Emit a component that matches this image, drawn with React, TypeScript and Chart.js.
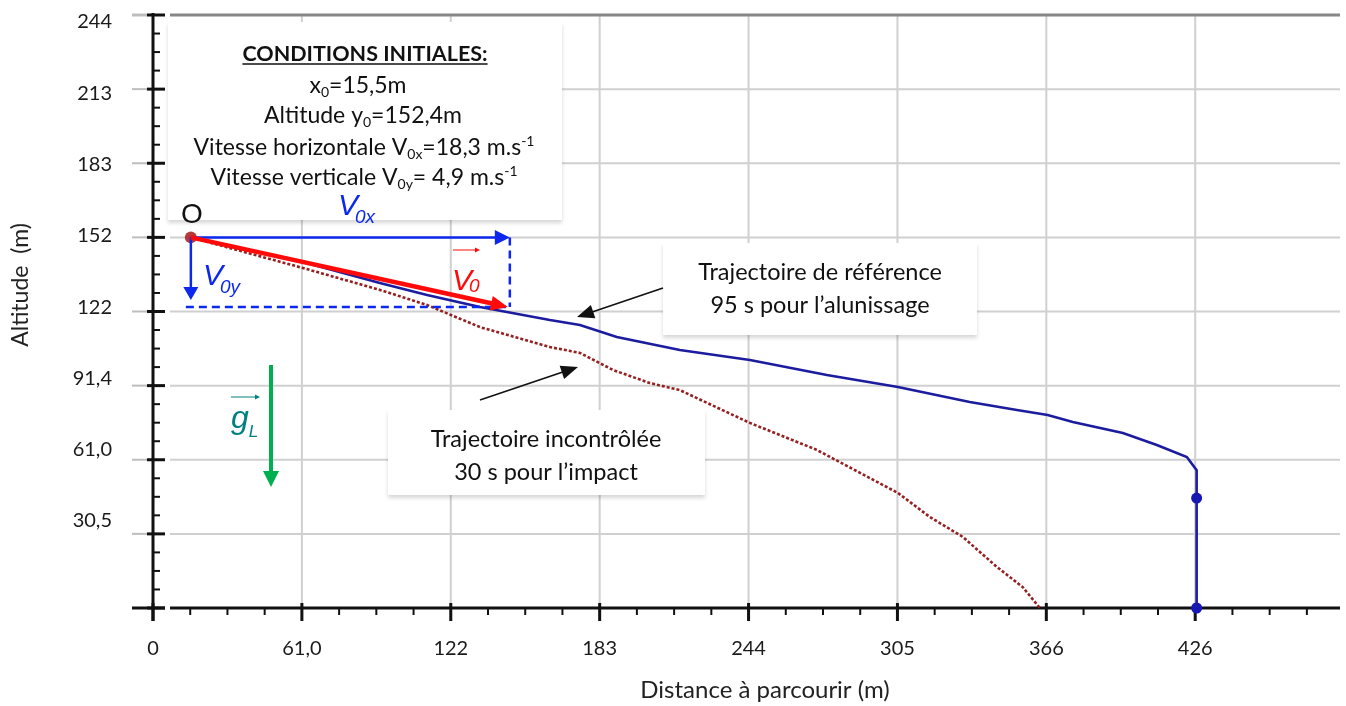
import React, { useEffect, useRef } from "react";
import { Chart, registerables } from "chart.js";

Chart.register(...registerables);

// ---------- DATA ----------
const xTickValues = [0, 60.96, 121.92, 182.88, 243.84, 304.8, 365.76, 426.72];
const xTickLabels = ["0", "61,0", "122", "183", "244", "305", "366", "426"];
const yTickValues = [0, 30.48, 60.96, 91.44, 121.92, 152.4, 182.88, 213.36, 243.84];
const yTickLabels = ["", "30,5", "61,0", "91,4", "122", "152", "183", "213", "244"];

// Trajectoire de référence (m)
const refX = [15.5, 61.4, 92.9, 112.2, 133.9, 162.5, 174.8, 189.9, 215.7, 244.4, 275.9, 305.0, 334.4, 353.7, 366.3, 376.6, 397.1, 411.0, 423.3, 427.3, 427.3];
const refY = [152.4, 142.3, 133.6, 128.7, 123.8, 118.4, 116.4, 111.4, 106.1, 102.0, 95.8, 90.9, 84.7, 81.4, 79.4, 76.5, 72.0, 67.0, 62.1, 56.7, 0];
// Trajectoire incontrôlée (m)
const freeX = [15.5, 61.4, 92.9, 112.2, 133.9, 162.5, 174.8, 188.3, 203.4, 215.7, 244.4, 271.8, 305.0, 318.1, 331.6, 345.5, 356.1, 363.1];
const freeY = [152.4, 139.8, 130.8, 124.6, 115.5, 107.3, 104.9, 97.9, 92.5, 89.6, 76.1, 65.0, 47.3, 37.4, 29.2, 16.9, 8.6, 0];
// markers
const landingX = [427.3, 427.3];
const landingY = [45.2, 0];
const originX = [15.5];
const originY = [152.4];

// initial velocity vector construction (in metres, drawn through the scales)
const vecTipX = 146.1;
const vecTipY = 123.8;
const vyTipY = 126.6;

const zip = (xs: number[], ys: number[]) => xs.map((x, i) => ({ x, y: ys[i] }));

type Seg = { t: string; k?: "sub" | "sup" };

function drawRich(ctx: CanvasRenderingContext2D, segs: Seg[], cx: number, base: number, size: number, family: string, weight: string, color: string) {
  const small = Math.round(size * 0.62);
  const fontFor = (k?: string) => `${weight} ${k ? small : size}px ${family}`;
  let total = 0;
  const ws = segs.map((s) => {
    ctx.font = fontFor(s.k);
    const w = ctx.measureText(s.t).width;
    total += w;
    return w;
  });
  let x = cx - total / 2;
  ctx.fillStyle = color;
  ctx.textAlign = "left";
  ctx.textBaseline = "alphabetic";
  segs.forEach((s, i) => {
    ctx.font = fontFor(s.k);
    const y = base + (s.k === "sub" ? size * 0.16 : s.k === "sup" ? -size * 0.4 : 0);
    ctx.fillText(s.t, x, y);
    x += ws[i];
  });
  return { left: cx - total / 2, right: cx + total / 2 };
}

function drawArrow(ctx: CanvasRenderingContext2D, x1: number, y1: number, x2: number, y2: number, color: string, lw: number, hl: number, hw: number) {
  const dx = x2 - x1, dy = y2 - y1;
  const L = Math.hypot(dx, dy);
  const ux = dx / L, uy = dy / L;
  const bx = x2 - ux * hl, by = y2 - uy * hl;
  ctx.save();
  ctx.strokeStyle = color;
  ctx.fillStyle = color;
  ctx.lineWidth = lw;
  ctx.setLineDash([]);
  ctx.beginPath();
  ctx.moveTo(x1, y1);
  ctx.lineTo(bx + ux, by + uy);
  ctx.stroke();
  ctx.beginPath();
  ctx.moveTo(x2, y2);
  ctx.lineTo(bx - uy * hw, by + ux * hw);
  ctx.lineTo(bx + uy * hw, by - ux * hw);
  ctx.closePath();
  ctx.fill();
  ctx.restore();
}

function vecLabel(ctx: CanvasRenderingContext2D, main: string, sub: string, x: number, base: number, size: number, subSize: number, subDx: number, subDy: number, color: string) {
  ctx.fillStyle = color;
  ctx.textAlign = "left";
  ctx.textBaseline = "alphabetic";
  ctx.font = `italic ${size}px "Liberation Sans"`;
  ctx.fillText(main, x, base);
  const w = ctx.measureText(main).width;
  ctx.font = `italic ${subSize}px "Liberation Sans"`;
  ctx.fillText(sub, x + w + subDx, base + subDy);
}

function whiteBox(ctx: CanvasRenderingContext2D, x1: number, y1: number, x2: number, y2: number) {
  ctx.save();
  ctx.shadowColor = "rgba(0,0,0,0.16)";
  ctx.shadowBlur = 4;
  ctx.shadowOffsetY = 3;
  ctx.fillStyle = "#ffffff";
  ctx.fillRect(x1, y1, x2 - x1, y2 - y1);
  ctx.restore();
}

const decorPlugin = {
  id: "decor",
  beforeDraw(chart: any) {
    const ctx = chart.ctx;
    ctx.save();
    ctx.fillStyle = "#ffffff";
    ctx.fillRect(0, 0, chart.width, chart.height);
    ctx.restore();
  },
  beforeDatasetsDraw(chart: any) {
    const ctx: CanvasRenderingContext2D = chart.ctx;
    const { left, right, top, bottom } = chart.chartArea;
    const sx = chart.scales.x, sy = chart.scales.y;
    ctx.save();
    // grid
    ctx.strokeStyle = "rgb(208,208,208)";
    ctx.lineWidth = 2;
    xTickValues.forEach((v, i) => {
      if (i === 0) return;
      const X = sx.getPixelForValue(v);
      ctx.beginPath();
      ctx.moveTo(X, top);
      ctx.lineTo(X, bottom - 5);
      ctx.stroke();
    });
    yTickValues.forEach((v, i) => {
      if (i === 0) return;
      const Y = sy.getPixelForValue(v);
      const last = i === yTickValues.length - 1;
      ctx.strokeStyle = last ? "rgb(135,135,135)" : "rgb(208,208,208)";
      ctx.lineWidth = last ? 3 : 2;
      ctx.beginPath();
      ctx.moveTo(left + 17, Y);
      ctx.lineTo(right, Y);
      ctx.stroke();
      ctx.strokeStyle = "rgb(190,190,190)";
      ctx.beginPath();
      ctx.moveTo(left - 21, Y);
      ctx.lineTo(left - 6, Y);
      ctx.stroke();
    });
    // boxes
    whiteBox(ctx, 168, 22, 562, 220);
    whiteBox(ctx, 663, 243, 977, 335);
    whiteBox(ctx, 388, 410, 705, 495);
    // axes
    ctx.strokeStyle = "#111";
    ctx.lineWidth = 3;
    ctx.beginPath();
    ctx.moveTo(left, top - 2);
    ctx.lineTo(left, bottom + 13);
    ctx.stroke();
    ctx.beginPath();
    ctx.moveTo(left - 21, bottom);
    ctx.lineTo(left + 12, bottom);
    ctx.moveTo(left + 17, bottom);
    ctx.lineTo(right, bottom);
    ctx.stroke();
    yTickValues.forEach((v) => {
      const Y = sy.getPixelForValue(v);
      ctx.beginPath();
      ctx.moveTo(left - 6, Y);
      ctx.lineTo(left + 12, Y);
      ctx.stroke();
    });
    xTickValues.forEach((v) => {
      const X = sx.getPixelForValue(v);
      ctx.beginPath();
      ctx.moveTo(X, bottom - 5);
      ctx.lineTo(X, bottom + 13);
      ctx.stroke();
    });
    ctx.lineWidth = 2;
    const yStep = 7.62, xStep = 15.24;
    for (let k = 1; k * yStep < sy.max; k++) {
      if (k % 4 === 0) continue;
      const Y = sy.getPixelForValue(k * yStep);
      ctx.beginPath();
      ctx.moveTo(left, Y);
      ctx.lineTo(left + 7, Y);
      ctx.stroke();
    }
    for (let k = 1; k * xStep < sx.max; k++) {
      if (k % 4 === 0) continue;
      const X = sx.getPixelForValue(k * xStep);
      ctx.beginPath();
      ctx.moveTo(X, bottom);
      ctx.lineTo(X, bottom + 7);
      ctx.stroke();
    }
    ctx.restore();
  },
  afterDatasetsDraw(chart: any) {
    const ctx: CanvasRenderingContext2D = chart.ctx;
    const sx = chart.scales.x, sy = chart.scales.y;
    const ox = sx.getPixelForValue(originX[0]);
    const oy = sy.getPixelForValue(originY[0]);
    const tx = sx.getPixelForValue(vecTipX);
    const ty = sy.getPixelForValue(vecTipY);
    const vyy = sy.getPixelForValue(vyTipY);
    const blue = "rgb(12,40,238)";
    const red = "rgb(255,10,10)";
    ctx.save();
    // dashed construction lines
    ctx.strokeStyle = blue;
    ctx.lineWidth = 2.5;
    ctx.setLineDash([8, 5]);
    ctx.beginPath();
    ctx.moveTo(tx, oy);
    ctx.lineTo(tx, ty);
    ctx.moveTo(ox - 5, ty);
    ctx.lineTo(tx, ty);
    ctx.stroke();
    ctx.setLineDash([]);
    // V0x, V0y arrows
    drawArrow(ctx, ox, oy, tx, oy, blue, 2.5, 15, 7.5);
    drawArrow(ctx, ox, oy, ox, vyy, blue, 2.5, 13, 7.5);
    // V0 arrow
    drawArrow(ctx, ox, oy, tx - 2, ty, red, 4.5, 17, 7.5);
    // gravity arrow
    drawArrow(ctx, 271, 365, 271, 487, "#00b050", 4, 16, 8);
    // black pointer arrows
    drawArrow(ctx, 663, 288, 577, 317, "#111", 1.6, 17, 7);
    drawArrow(ctx, 480, 400, 578, 367, "#111", 1.6, 17, 7);

    // labels
    ctx.fillStyle = "#111";
    ctx.font = '28px "Liberation Sans"';
    ctx.textAlign = "center";
    ctx.textBaseline = "alphabetic";
    ctx.fillText("O", 192, 223);
    vecLabel(ctx, "V", "0x", 338, 215, 30, 19, -3, 8, blue);
    vecLabel(ctx, "V", "0y", 203, 285, 30, 19, -3, 8, blue);
    vecLabel(ctx, "V", "0", 452, 290, 30, 19, -3, 2, red);
    drawArrow(ctx, 453, 250, 480, 250, red, 1, 5, 2.5);
    vecLabel(ctx, "g", "L", 231, 428, 32, 17, 0, 9, "#008080");
    drawArrow(ctx, 231, 397, 260, 397, "#008080", 1, 5, 2.5);

    // conditions initiales
    const fam = "Lato";
    const r = drawRich(ctx, [{ t: "CONDITIONS INITIALES:" }], 365, 61, 21.5, fam, "bold", "#111");
    ctx.strokeStyle = "#111";
    ctx.lineWidth = 1.5;
    ctx.beginPath();
    ctx.moveTo(r.left, 64);
    ctx.lineTo(r.right, 64);
    ctx.stroke();
    drawRich(ctx, [{ t: "x" }, { t: "0", k: "sub" }, { t: "=15,5m" }], 358, 93, 23, fam, "normal", "#111");
    drawRich(ctx, [{ t: "Altitude y" }, { t: "0", k: "sub" }, { t: "=152,4m" }], 363, 123, 23, fam, "normal", "#111");
    drawRich(ctx, [{ t: "Vitesse horizontale V" }, { t: "0x", k: "sub" }, { t: "=18,3 m.s" }, { t: "-1", k: "sup" }], 364, 155, 23, fam, "normal", "#111");
    drawRich(ctx, [{ t: "Vitesse verticale V" }, { t: "0y", k: "sub" }, { t: "= 4,9 m.s" }, { t: "-1", k: "sup" }], 364, 185, 23, fam, "normal", "#111");

    // callouts
    drawRich(ctx, [{ t: "Trajectoire de référence" }], 820, 280, 23.5, fam, "normal", "#111");
    drawRich(ctx, [{ t: "95 s pour l’alunissage" }], 820, 313, 23.5, fam, "normal", "#111");
    drawRich(ctx, [{ t: "Trajectoire incontrôlée" }], 546, 447, 23.5, fam, "normal", "#111");
    drawRich(ctx, [{ t: "30 s pour l’impact" }], 546, 480, 23.5, fam, "normal", "#111");

    // axis titles
    ctx.fillStyle = "#222";
    ctx.font = "24px Lato";
    ctx.textAlign = "center";
    ctx.textBaseline = "alphabetic";
    ctx.fillText("Distance à parcourir (m)", 765, 698);
    ctx.save();
    ctx.font = "23px Lato";
    ctx.translate(28, 285);
    ctx.rotate(-Math.PI / 2);
    ctx.fillText("Altitude  (m)", 0, 0);
    ctx.restore();
    ctx.restore();
  },
};

export default function App() {
  const ref = useRef<HTMLCanvasElement | null>(null);
  useEffect(() => {
    document.body.style.margin = "0";
    const canvas = ref.current;
    if (!canvas) return;
    const chart = new Chart(canvas, {
      type: "scatter",
      data: {
        datasets: [
          {
            label: "Trajectoire de référence",
            data: zip(refX, refY),
            showLine: true,
            borderColor: "rgb(28,28,158)",
            borderWidth: 2.6,
            pointRadius: 0,
            tension: 0,
            clip: false,
          },
          {
            label: "Trajectoire incontrôlée",
            data: zip(freeX, freeY),
            showLine: true,
            borderColor: "rgb(150,32,32)",
            borderWidth: 2.6,
            borderDash: [3, 2],
            pointRadius: 0,
            tension: 0,
            clip: false,
          },
          {
            label: "Alunissage",
            data: zip(landingX, landingY),
            showLine: false,
            pointRadius: 5.5,
            backgroundColor: "rgb(22,22,185)",
            borderWidth: 0,
            clip: false,
          },
          {
            label: "O",
            data: zip(originX, originY),
            showLine: false,
            pointRadius: 6,
            backgroundColor: "rgba(175,35,35,0.9)",
            borderWidth: 0,
            clip: false,
          },
        ],
      } as any,
      options: {
        responsive: false,
        animation: false,
        devicePixelRatio: 1,
        events: [],
        layout: { padding: { top: 15, right: 6, left: 0, bottom: 0 } },
        plugins: { legend: { display: false }, tooltip: { enabled: false } },
        scales: {
          x: {
            type: "linear",
            min: 0,
            max: 486,
            grid: { display: false, drawTicks: false },
            border: { display: false },
            afterBuildTicks: (scale: any) => {
              scale.ticks = xTickValues.map((v) => ({ value: v }));
            },
            afterFit: (scale: any) => {
              scale.height = 98;
              scale.paddingLeft = 0;
              scale.paddingRight = 0;
            },
            ticks: {
              autoSkip: false,
              maxRotation: 0,
              padding: 29,
              color: "#1a1a1a",
              font: { family: "Lato", size: 20 },
              callback: (_v: any, i: number) => xTickLabels[i],
            },
          },
          y: {
            type: "linear",
            display: false,
            min: 0,
            max: 243.84,
          },
          yl: {
            type: "linear",
            position: "left",
            min: -6.72,
            max: 246.8,
            grid: { display: false, drawTicks: false },
            border: { display: false },
            afterBuildTicks: (scale: any) => {
              scale.ticks = yTickValues.map((v) => ({ value: v }));
            },
            afterFit: (scale: any) => {
              scale.width = 153;
              scale.paddingTop = 0;
              scale.paddingBottom = 0;
            },
            ticks: {
              autoSkip: false,
              padding: 41,
              color: "#1a1a1a",
              font: { family: "Lato", size: 20 },
              callback: (_v: any, i: number) => yTickLabels[i],
            },
          },
        },
      } as any,
      plugins: [decorPlugin],
    });
    return () => chart.destroy();
  }, []);
  return (
    <div style={{ position: "absolute", left: 0, top: 0, width: 1346, height: 706, background: "#fff" }}>
      <canvas ref={ref} width={1346} height={706} />
    </div>
  );
}
